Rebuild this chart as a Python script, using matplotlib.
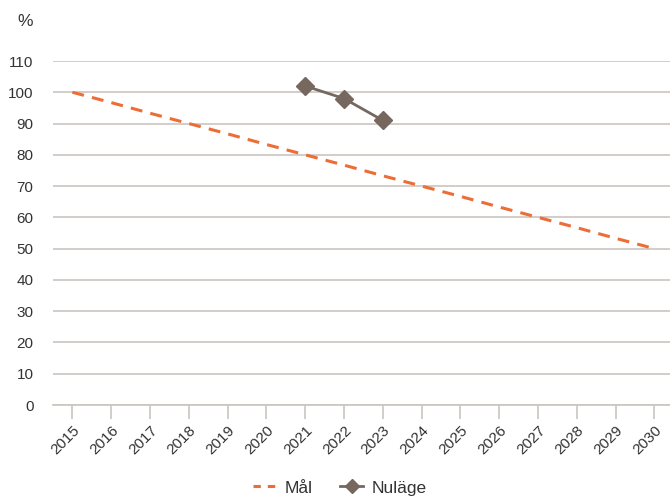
import matplotlib.pyplot as plt

plt.rcParams['font.family'] = ['Liberation Sans', 'DejaVu Sans']

years = [str(y) for y in range(2015, 2031)]
mal = [100, 96.7, 93.3, 90, 86.7, 83.3, 80, 76.7, 73.3, 70, 66.7, 63.3, 60, 56.7, 53.3, 50]
nulage_years = ['2021', '2022', '2023']
nulage = [102, 98, 91]

orange = '#EC6D36'
brown = '#76685F'
grid_col = '#CBC5C0'
text_col = '#333333'

fig = plt.figure(figsize=(6.7, 4.98), dpi=100)
ax = fig.add_axes([53 / 670, 1 - 405 / 498, 1 - 53 / 670, (405 - 61) / 498 * 1.0])

x_all = list(range(len(years)))
x_now = [years.index(y) for y in nulage_years]

ax.plot(x_all, mal, color=orange, lw=2.2, dashes=(3.9, 2.7), label='Mål', zorder=3)
ax.plot(x_now, nulage, color=brown, lw=2, marker='D', ms=9, label='Nuläge', zorder=4)

ax.set_ylim(0, 110)
ax.set_yticks(range(0, 111, 10))
ax.set_xlim(-0.5, 15.4)
ax.set_xticks(x_all)
ax.set_xticklabels(years, rotation=45, ha='right', va='top', rotation_mode='anchor')

ax.yaxis.grid(True, color=grid_col, lw=1.2)
ax.set_axisbelow(True)
for s in ['top', 'right', 'left']:
    ax.spines[s].set_visible(False)
ax.spines['bottom'].set_color(grid_col)
ax.spines['bottom'].set_linewidth(1.2)
ax.tick_params(axis='y', length=0, pad=14, labelsize=11, labelcolor=text_col)
ax.tick_params(axis='x', length=10, width=1.2, color=grid_col, pad=3,
               labelsize=11, labelcolor=text_col)

fig.text(25 / 670, 1 - 21 / 498, '%', fontsize=12.5, color=text_col, ha='center', va='center')

leg = fig.legend(loc='center', bbox_to_anchor=(340 / 670, 1 - 488 / 498), ncol=2, frameon=False,
                 fontsize=12.5, handlelength=1.3, columnspacing=1.6, handletextpad=0.5,
                 markerscale=0.8, labelcolor=text_col)
# shorter dashes in the legend sample so two full dashes fit
leg.get_lines()[0].set_dashes((2.4, 2.3))

fig.savefig('out.png', dpi=100)
